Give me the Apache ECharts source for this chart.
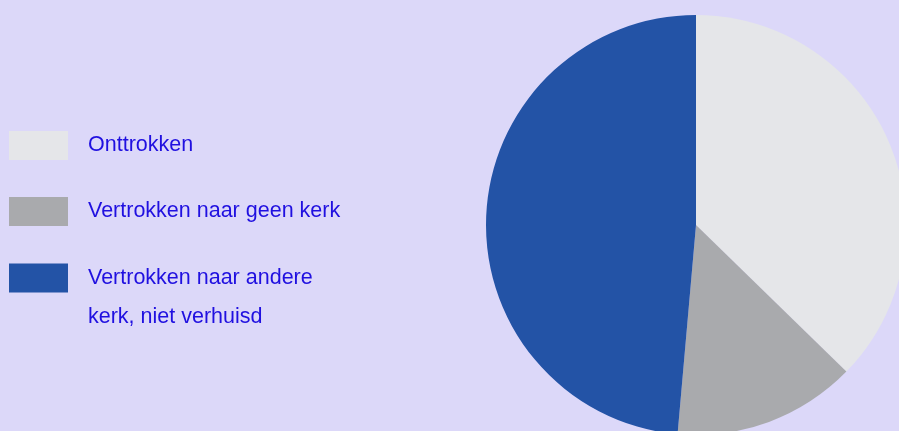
<!DOCTYPE html>
<html>
<head>
<meta charset="utf-8">
<script src="https://cdn.jsdelivr.net/npm/echarts@6/dist/echarts.min.js"></script>
<style>
html,body{margin:0;padding:0;background:#dcd8f9;}
#c{width:899px;height:431px;}
</style>
</head>
<body>
<div id="c"></div>
<script>
const categories = ['Onttrokken', 'Vertrokken naar geen kerk', 'Vertrokken naar andere kerk, niet verhuisd'];
const values = [37.3, 14.1, 48.6];
const colors = ['#e5e6e9', '#a9aaad', '#2353a6'];
const legendLabels = ['Onttrokken', 'Vertrokken naar geen kerk', '\nVertrokken naar andere\nkerk, niet verhuisd'];

const chart = echarts.init(document.getElementById('c'), null, {renderer: 'canvas'});
const textColor = '#2010e0';
const fontFamily = '"Liberation Sans", Arial, sans-serif';
function makeLegend(i, top) {
  return {
    data: [categories[i]],
    left: 9,
    top: top,
    padding: 0,
    orient: 'vertical',
    icon: 'rect',
    itemWidth: 59,
    itemHeight: 29,
    selectedMode: false,
    formatter: function () { return legendLabels[i]; },
    textStyle: {
      color: textColor,
      fontSize: 21.5,
      fontFamily: fontFamily,
      lineHeight: 39,
      padding: [0, 0, 0, 15]
    }
  };
}
chart.setOption({
  backgroundColor: '#dcd8f9',
  animation: false,
  color: colors,
  legend: [
    makeLegend(0, 126),
    makeLegend(1, 192),
    makeLegend(2, 219.5)
  ],
  series: [{
    type: 'pie',
    center: [696, 225],
    radius: 210,
    startAngle: 90,
    clockwise: true,
    label: {show: false},
    labelLine: {show: false},
    emphasis: {disabled: true},
    itemStyle: {borderWidth: 0},
    data: categories.map((c, i) => ({name: c, value: values[i]}))
  }]
});
</script>
</body>
</html>
